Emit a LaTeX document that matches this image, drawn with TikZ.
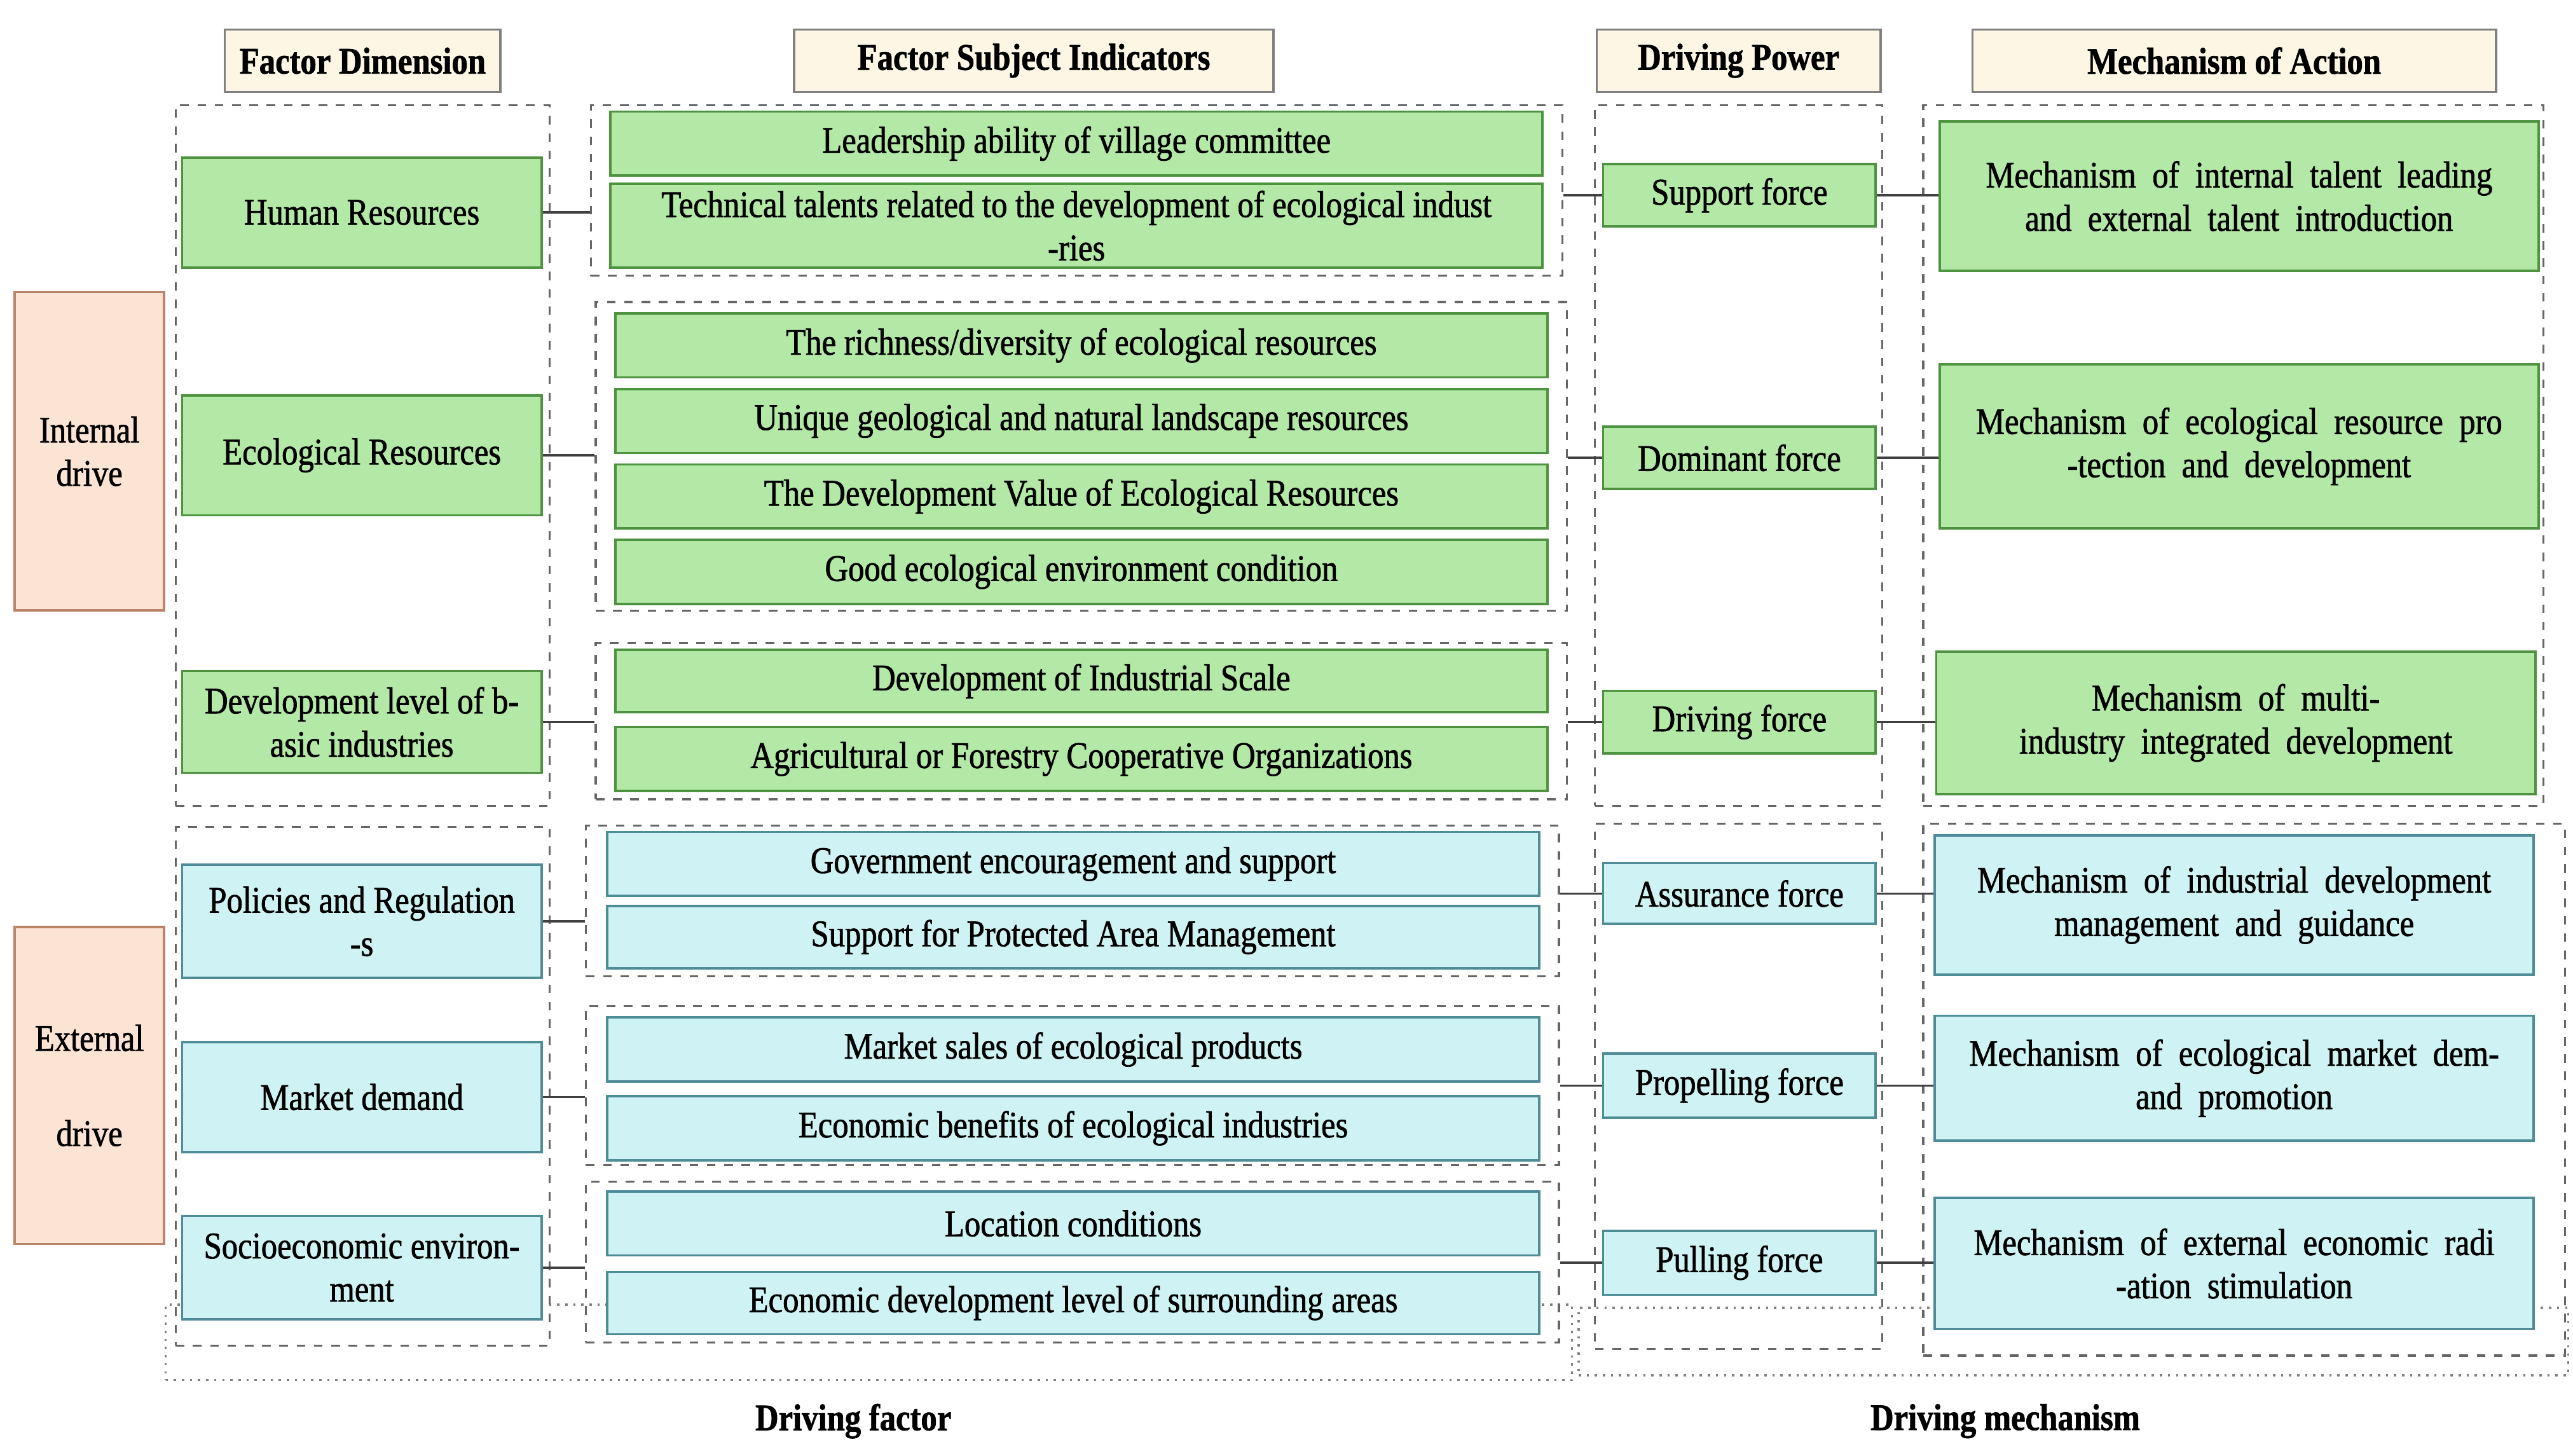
\documentclass[tikz,border=0pt]{standalone}
\usepackage{fontspec}
\setmainfont{Liberation Serif}[FakeStretch=0.86,FakeBold=1.2]
\begin{document}
\fontsize{13}{15}\selectfont
\definecolor{gf}{HTML}{B4E8A6}\definecolor{gd}{HTML}{4E9340}
\definecolor{cf}{HTML}{CFF3F4}\definecolor{cd}{HTML}{4E8C98}
\definecolor{of}{HTML}{FCE4D4}\definecolor{od}{HTML}{B98468}
\definecolor{hf}{HTML}{FDF6E4}
\newcommand\bx[7]{\node[#2,minimum width={(#5-#3)*0.02cm},minimum height={(#6-#4)*0.02cm}] (#1) at ({(#3+#5)/2},{(#4+#6)/2}) {#7};}
\begin{tikzpicture}[x=0.02cm,y=-0.02cm,
 base/.style={draw,inner sep=0pt,align=center,line width=0.8pt},
 g/.style={base,fill=gf,draw=gd},
 c/.style={base,fill=cf,draw=cd},
 o/.style={base,fill=of,draw=od},
 h/.style={base,fill=hf,draw=gray},
 grp/.style={draw=gray!80!black,dashed,inner sep=0pt,line width=0.7pt},
 dot/.style={draw=gray,dotted,inner sep=0pt,line width=0.8pt},
 lk/.style={draw=black!75,line width=0.8pt}]
\fill[white] (0,0) rectangle (1568,887);
% dotted big boxes
\bx{df}{dot}{101}{795}{958}{841}{}
\bx{dm}{dot}{962}{797}{1565}{838}{}
\node (dfl) at (520,866) {\bfseries Driving factor};
\node (dml) at (1222,866) {\bfseries Driving mechanism};
% headers
\bx{h1}{h}{137}{18}{305}{56}{\bfseries Factor Dimension}
\bx{h2}{h}{484}{18}{776}{56}{\bfseries Factor Subject Indicators}
\bx{h3}{h}{973}{18}{1146}{56}{\bfseries Driving Power}
\bx{h4}{h}{1202}{18}{1521}{56}{\bfseries Mechanism of Action}
% groups
\bx{c1a}{grp}{107}{64}{335}{491}{}
\bx{c1b}{grp}{107}{504}{335}{820}{}
\bx{g1}{grp}{360}{64}{952}{168}{}
\bx{g2}{grp}{363}{184}{955}{372}{}
\bx{g3}{grp}{363}{392}{955}{487}{}
\bx{g4}{grp}{357}{503}{950}{595}{}
\bx{g5}{grp}{357}{613}{950}{710}{}
\bx{g6}{grp}{357}{720}{950}{818}{}
\bx{c3a}{grp}{972}{64}{1147}{491}{}
\bx{c3b}{grp}{972}{502}{1147}{822}{}
\bx{c4a}{grp}{1172}{64}{1550}{491}{}
\bx{c4b}{grp}{1172}{502}{1563}{826}{}
% left
\bx{int}{o}{9}{178}{100}{372}{Internal\\drive}
\bx{ext}{o}{9}{565}{100}{758}{External\\[18pt]drive}
% col1
\bx{hr}{g}{111}{96}{330}{163}{Human Resources}
\bx{er}{g}{111}{241}{330}{314}{Ecological Resources}
\bx{dl}{g}{111}{409}{330}{471}{Development level of b-\\asic industries}
\bx{pr}{c}{111}{527}{330}{596}{Policies and Regulation\\-s}
\bx{md}{c}{111}{635}{330}{702}{Market demand}
\bx{se}{c}{111}{741}{330}{804}{Socioeconomic environ-\\ment}
% col2
\bx{i1}{g}{372}{68}{940}{107}{Leadership ability of village committee}
\bx{i2}{g}{372}{112}{940}{163}{Technical talents related to the development of ecological indust\\-ries}
\bx{i3}{g}{375}{191}{943}{230}{The richness/diversity of ecological resources}
\bx{i4}{g}{375}{237}{943}{276}{Unique geological and natural landscape resources}
\bx{i5}{g}{375}{283}{943}{322}{The Development Value of Ecological Resources}
\bx{i6}{g}{375}{329}{943}{368}{Good ecological environment condition}
\bx{i7}{g}{375}{396}{943}{434}{Development of Industrial Scale}
\bx{i8}{g}{375}{443}{943}{482}{Agricultural or Forestry Cooperative Organizations}
\bx{i9}{c}{370}{507}{938}{546}{Government encouragement and support}
\bx{i10}{c}{370}{552}{938}{590}{Support for Protected Area Management}
\bx{i11}{c}{370}{620}{938}{659}{Market sales of ecological products}
\bx{i12}{c}{370}{668}{938}{707}{Economic benefits of ecological industries}
\bx{i13}{c}{370}{726}{938}{765}{Location conditions}
\bx{i14}{c}{370}{775}{938}{813}{Economic development level of surrounding areas}
% col3
\bx{f1}{g}{977}{100}{1143}{138}{Support force}
\bx{f2}{g}{977}{260}{1143}{298}{Dominant force}
\bx{f3}{g}{977}{421}{1143}{459}{Driving force}
\bx{f4}{c}{977}{526}{1143}{563}{Assurance force}
\bx{f5}{c}{977}{642}{1143}{681}{Propelling force}
\bx{f6}{c}{977}{750}{1143}{789}{Pulling force}
% col4
\bx{m1}{g}{1182}{74}{1547}{165}{Mechanism\ \ of\ \ internal\ \ talent\ \ leading\\and\ \ external\ \ talent\ \ introduction}
\bx{m2}{g}{1182}{222}{1547}{322}{Mechanism\ \ of\ \ ecological\ \ resource\ \ pro\\-tection\ \ and\ \ development}
\bx{m3}{g}{1180}{397}{1545}{484}{Mechanism\ \ of\ \ multi-\\industry\ \ integrated\ \ development}
\bx{m4}{c}{1179}{509}{1544}{594}{Mechanism\ \ of\ \ industrial\ \ development\\management\ \ and\ \ guidance}
\bx{m5}{c}{1179}{619}{1544}{695}{Mechanism\ \ of\ \ ecological\ \ market\ \ dem-\\and\ \ promotion}
\bx{m6}{c}{1179}{730}{1544}{810}{Mechanism\ \ of\ \ external\ \ economic\ \ radi\\-ation\ \ stimulation}
% links
\foreach \a/\b in {hr/g1,er/g2,dl/g3,pr/g4,md/g5,se/g6}
 \draw[lk] (\a.east) -- (\a.east -| \b.west);
\foreach \a/\b in {g1/f1,g2/f2,g3/f3,g4/f4,g5/f5,g6/f6}
 \draw[lk] (\b.west -| \a.east) -- (\b.west);
\foreach \a/\b in {f1/m1,f2/m2,f3/m3,f4/m4,f5/m5,f6/m6}
 \draw[lk] (\a.east) -- (\a.east -| \b.west);
\end{tikzpicture}
\end{document}
